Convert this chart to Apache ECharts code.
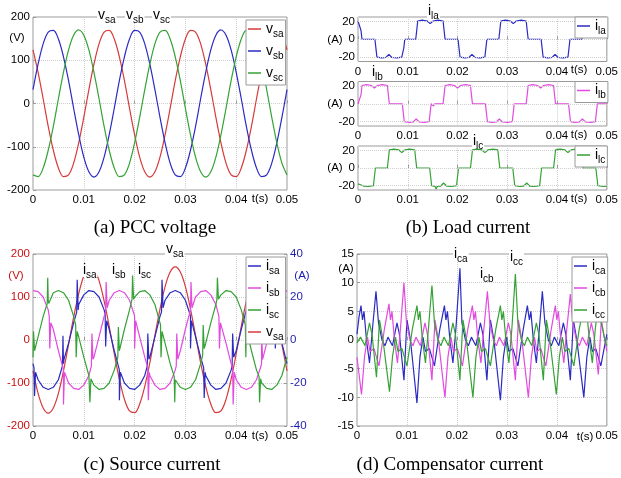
<!DOCTYPE html>
<html><head><meta charset="utf-8">
<script src="https://cdn.jsdelivr.net/npm/echarts@6/dist/echarts.min.js"></script>
<style>html,body{margin:0;padding:0;background:#fff}#c{width:621px;height:478px}</style>
</head><body><div id="c"></div>
<script>
const FONT = "'Liberation Sans', Arial, sans-serif";
const SERIF = "'Liberation Serif', 'Times New Roman', serif";

// time samples (s), 1 ms step
const tSec = [0,0.001,0.002,0.003,0.004,0.005,0.006,0.007,0.008,0.009,0.010,0.011,0.012,0.013,0.014,0.015,0.016,0.017,0.018,0.019,0.020,0.021,0.022,0.023,0.024,0.025,0.026,0.027,0.028,0.029,0.030,0.031,0.032,0.033,0.034,0.035,0.036,0.037,0.038,0.039,0.040,0.041,0.042,0.043,0.044,0.045,0.046,0.047,0.048,0.049,0.050];
const xTickLabels = ['0','0.01','0.02','0.03','0.04','0.05'];

// (a) PCC voltage (V)
const vsaA = [124,72,11,-53,-108,-149,-169,-165,-138,-91,-32,32,91,138,165,169,149,108,53,-11,-72,-124,-158,-170,-158,-124,-72,-11,53,108,149,169,165,138,91,32,-32,-91,-138,-165,-169,-149,-108,-53,11,72,124,158,170,158,124];
const vsbA = [32,91,138,165,169,149,108,53,-11,-72,-124,-158,-170,-158,-124,-72,-11,53,108,149,169,165,138,91,32,-32,-91,-138,-165,-169,-149,-108,-53,11,72,124,158,170,158,124,72,11,-53,-108,-149,-169,-165,-138,-91,-32,32];
const vscA = [-165,-169,-149,-108,-53,11,72,124,158,170,158,124,72,11,-53,-108,-149,-169,-165,-138,-91,-32,32,91,138,165,169,149,108,53,-11,-72,-124,-158,-170,-158,-124,-72,-11,53,108,149,169,165,138,91,32,-32,-91,-138,-165];

// (b) Load current (A), [t, i]
const ilaB = [[0,20.5],[0.0004,20],[0.0006,10],[0.0008,0],[0.0034,0],[0.0036,-10],[0.0038,-20],[0.0048,-21],[0.0056,-20.5],[0.0062,-17],[0.0068,-20.5],[0.0078,-21],[0.0088,-20],[0.0092,-10],[0.0094,0],[0.0116,0],[0.0118,10],[0.0120,20.5],[0.0129,21.5],[0.0139,20.5],[0.0145,17.5],[0.0151,20.5],[0.0161,21.5],[0.0171,20.5],[0.0173,10],[0.0175,0],[0.0201,0],[0.0203,-10],[0.0205,-20],[0.0215,-21],[0.0223,-20.5],[0.0229,-17],[0.0235,-20.5],[0.0245,-21],[0.0255,-20],[0.0257,-10],[0.0259,0],[0.0283,0],[0.0285,10],[0.0287,20.5],[0.0296,21.5],[0.0306,20.5],[0.0312,17.5],[0.0318,20.5],[0.0328,21.5],[0.0338,20.5],[0.0340,10],[0.0342,0],[0.0368,0],[0.0370,-10],[0.0372,-20],[0.0382,-21],[0.0390,-20.5],[0.0396,-17],[0.0402,-20.5],[0.0412,-21],[0.0422,-20],[0.0424,-10],[0.0426,0],[0.0450,0],[0.0452,10],[0.0454,20.5],[0.0463,21.5],[0.0473,20.5],[0.0479,17.5],[0.0485,20.5],[0.0495,21.5],[0.0500,21]];
const ilbB = [[0,0],[0.0004,0],[0.0006,10],[0.0008,20.5],[0.0017,21.5],[0.0027,20.5],[0.0033,17.5],[0.0039,20.5],[0.0049,21.5],[0.0059,20.5],[0.0061,10],[0.0063,0],[0.0089,0],[0.0091,-10],[0.0093,-20],[0.0103,-21],[0.0111,-20.5],[0.0117,-17],[0.0123,-20.5],[0.0133,-21],[0.0143,-20],[0.0145,-10],[0.0147,0],[0.0152,-2.5],[0.0154,0],[0.0171,0],[0.0173,10],[0.0175,20.5],[0.0184,21.5],[0.0194,20.5],[0.0200,17.5],[0.0206,20.5],[0.0216,21.5],[0.0226,20.5],[0.0228,10],[0.0230,0],[0.0256,0],[0.0258,-10],[0.0260,-20],[0.0270,-21],[0.0278,-20.5],[0.0284,-17],[0.0290,-20.5],[0.0300,-21],[0.0310,-20],[0.0312,-10],[0.0314,0],[0.0338,0],[0.0340,10],[0.0342,20.5],[0.0351,21.5],[0.0361,20.5],[0.0367,17.5],[0.0373,20.5],[0.0383,21.5],[0.0393,20.5],[0.0395,10],[0.0397,0],[0.0423,0],[0.0425,-10],[0.0427,-20],[0.0437,-21],[0.0445,-20.5],[0.0451,-17],[0.0457,-20.5],[0.0467,-21],[0.0477,-20],[0.0479,-10],[0.0481,0],[0.0500,0]];
const ilcB = [[0,-18],[0.0005,-19],[0.0011,-20.5],[0.0021,-21],[0.0031,-20],[0.0033,-10],[0.0035,0],[0.0059,0],[0.0061,10],[0.0063,20.5],[0.0072,21.5],[0.0082,20.5],[0.0088,17.5],[0.0094,20.5],[0.0104,21.5],[0.0114,20.5],[0.0116,10],[0.0118,0],[0.0144,0],[0.0146,-10],[0.0148,-20],[0.0155,-21],[0.0157,-24],[0.0159,-21],[0.0166,-20.5],[0.0172,-17],[0.0178,-20.5],[0.0188,-21],[0.0198,-20],[0.0200,-10],[0.0202,0],[0.0226,0],[0.0228,10],[0.0230,20.5],[0.0239,21.5],[0.0249,20.5],[0.0255,17.5],[0.0261,20.5],[0.0271,21.5],[0.0281,20.5],[0.0283,10],[0.0285,0],[0.0311,0],[0.0313,-10],[0.0315,-20],[0.0325,-21],[0.0333,-20.5],[0.0339,-17],[0.0345,-20.5],[0.0355,-21],[0.0365,-20],[0.0367,-10],[0.0369,0],[0.0393,0],[0.0395,10],[0.0397,20.5],[0.0406,21.5],[0.0416,20.5],[0.0422,17.5],[0.0428,20.5],[0.0438,21.5],[0.0448,20.5],[0.0450,10],[0.0452,0],[0.0478,0],[0.0480,-10],[0.0482,-20],[0.0492,-21],[0.0500,-20.5]];
const bGridLines = [-20, 0, 20];

// (c) Source current (A) and v_sa (V)
const vsaC = [-72,-124,-158,-170,-158,-124,-72,-11,53,108,149,169,165,138,91,32,-32,-91,-138,-165,-169,-149,-108,-53,11,72,124,158,170,158,124,72,11,-53,-108,-149,-169,-165,-138,-91,-32,32,91,138,165,169,149,108,53,-11,-72];
const isaC = [-11,-18.5,-22,-23,-22,-18.5,-11,-1.5,8,16.5,21,23,22.5,20,14,5,-5,-14,-20,-22.5,-23,-21,-16.5,-8,1.5,11,18.5,22,23,22,18.5,11,1.5,-8,-16.5,-21,-23,-22.5,-20,-14,-5,5,14,20,22.5,23,21,16.5,8,-1.5,-11];
const isbC = [23,22.5,20,14,5,-5,-14,-20,-22.5,-23,-21,-16.5,-8,1.5,11,18.5,22,23,22,18.5,11,1.5,-8,-16.5,-21,-23,-22.5,-20,-14,-5,5,14,20,22.5,23,21,16.5,8,-1.5,-11,-18.5,-22,-23,-22,-18.5,-11,-1.5,8,16.5,21,23];
const iscC = [-8,1.5,11,18.5,22,23,22,18.5,11,1.5,-8,-16.5,-21,-23,-22.5,-20,-14,-5,5,14,20,22.5,23,21,16.5,8,-1.5,-11,-18.5,-22,-23,-22,-18.5,-11,-1.5,8,16.5,21,23,22.5,20,14,5,-5,-14,-20,-22.5,-23,-21,-16.5,-8];
const isaSpikes = [[0.0002,-13],[0.0003,-26],[0.0005,-15],[0.0058,-12],[0.0059,2],[0.0061,-9],[0.0086,13],[0.0087,28],[0.0089,14],[0.0142,12],[0.0143,-3],[0.0145,9],[0.0169,-13],[0.0170,-28],[0.0172,-15],[0.0225,-12],[0.0226,3],[0.0228,-9],[0.0253,13],[0.0254,28],[0.0256,15],[0.0309,12],[0.0310,-4],[0.0312,9],[0.0336,-13],[0.0337,-27],[0.0339,-15],[0.0392,-12],[0.0393,3],[0.0395,-8],[0.0420,12],[0.0421,27],[0.0423,14],[0.0476,11],[0.0477,-4],[0.0479,8]];
const isbSpikes = [[0.0032,11],[0.0033,-4],[0.0035,8],[0.0059,-13],[0.0060,-30],[0.0062,-15],[0.0115,-12],[0.0116,3],[0.0118,-9],[0.0143,13],[0.0144,27],[0.0146,15],[0.0199,12],[0.0200,-4],[0.0202,9],[0.0226,-13],[0.0227,-28],[0.0229,-15],[0.0282,-12],[0.0283,3],[0.0285,-9],[0.0310,13],[0.0311,27],[0.0313,15],[0.0366,11],[0.0367,-4],[0.0369,8],[0.0393,-13],[0.0394,-30],[0.0396,-15],[0.0449,-12],[0.0450,3],[0.0452,-9],[0.0477,14],[0.0478,27],[0.0480,15]];
const iscSpikes = [[0.0001,4],[0.0003,-5],[0.0028,17],[0.0029,29],[0.0031,17],[0.0084,7],[0.0085,-8],[0.0087,4],[0.0111,-17],[0.0112,-29],[0.0114,-18],[0.0167,-8],[0.0168,6],[0.0170,-5],[0.0195,19],[0.0196,30],[0.0198,19],[0.0251,7],[0.0252,-8],[0.0254,4],[0.0278,-17],[0.0279,-29],[0.0281,-18],[0.0334,-7],[0.0335,7],[0.0337,-4],[0.0362,19],[0.0363,29],[0.0365,19],[0.0418,7],[0.0419,-8],[0.0421,4],[0.0445,-17],[0.0446,-29],[0.0448,-18]];

// (d) Compensator current (A), [t, i]
const icaD = [[0,1],[0.0004,4],[0.0008,6],[0.0011,3.5],[0.0014,5],[0.0019,0],[0.0025,-4],[0.0031,2],[0.0038,8.5],[0.0043,3],[0.005,0],[0.0056,-1],[0.0062,0.5],[0.0071,-1],[0.008,3],[0.0085,1],[0.0094,-7],[0.01,3.5],[0.0107,0],[0.012,-11],[0.0126,-3],[0.0132,0.5],[0.0137,-2],[0.0145,-1.5],[0.0155,-4.5],[0.0166,2],[0.0175,6],[0.0178,3.5],[0.0181,5],[0.0186,0],[0.0192,-4],[0.0198,2],[0.0206,12.5],[0.021,3],[0.0217,0],[0.0223,-1],[0.0229,0.5],[0.0238,-1],[0.0247,3],[0.0252,1],[0.026,-7],[0.0267,3.5],[0.0274,0],[0.0287,-10.5],[0.0293,-3],[0.0299,0.5],[0.0304,-2],[0.0312,-1.5],[0.0322,-4.5],[0.0333,2],[0.0341,6],[0.0345,3.5],[0.0348,5],[0.0353,0],[0.0359,-4],[0.0365,2],[0.0371,8.5],[0.0376,3],[0.0383,0],[0.0389,-1],[0.0395,0.5],[0.0404,-1],[0.0413,3],[0.0418,1],[0.0427,-7],[0.0433,3.5],[0.044,0],[0.0454,-10],[0.046,-3],[0.0466,0.5],[0.0471,-2],[0.0478,-1.5],[0.0488,-4.5],[0.05,1]];
const icbD = [[0,-3],[0.0009,-9.5],[0.0015,-3],[0.0021,0.5],[0.0026,-2],[0.0034,-1.5],[0.0044,-4.5],[0.0055,2],[0.0064,6.3],[0.0067,3.5],[0.007,5],[0.0075,0],[0.0081,-4],[0.0087,2],[0.0094,10],[0.0099,3],[0.0106,0],[0.0112,-1],[0.0118,0.5],[0.0127,-1],[0.0136,3],[0.0141,1],[0.015,-7],[0.0156,3.5],[0.0163,0],[0.0176,-10],[0.0182,-3],[0.0188,0.5],[0.0193,-2],[0.0201,-1.5],[0.0211,-4.5],[0.0222,2],[0.0231,6],[0.0234,3.5],[0.0237,5],[0.0242,0],[0.0248,-4],[0.0254,2],[0.0261,8.5],[0.0266,3],[0.0273,0],[0.0279,-1],[0.0285,0.5],[0.0294,-1],[0.0303,3],[0.0308,1],[0.0317,-7],[0.0323,3.5],[0.033,0],[0.0343,-10],[0.0349,-3],[0.0355,0.5],[0.036,-2],[0.0368,-1.5],[0.0378,-4.5],[0.0389,2],[0.0397,6],[0.04,3.5],[0.0403,5],[0.0408,0],[0.0414,-4],[0.042,2],[0.0427,8],[0.0432,3],[0.0439,0],[0.0445,-1],[0.0451,0.5],[0.046,-1],[0.0469,3],[0.0474,1],[0.0483,-6],[0.0489,3.5],[0.0496,0],[0.05,-2]];
const iccD = [[0,-0.5],[0.0007,0.5],[0.0016,-1],[0.0025,3],[0.003,1],[0.0039,-6.5],[0.0045,3.5],[0.0052,0],[0.0065,-9],[0.0071,-3],[0.0077,0.5],[0.0082,-2],[0.009,-1.5],[0.01,-4.5],[0.0111,2],[0.012,6],[0.0123,3.5],[0.0126,5],[0.0131,0],[0.0137,-4],[0.0143,2],[0.015,9.5],[0.0155,3],[0.0162,0],[0.0168,-1],[0.0174,0.5],[0.0183,-1],[0.0192,3],[0.0197,1],[0.0206,-7],[0.0212,3.5],[0.0219,0],[0.0232,-10],[0.0238,-3],[0.0244,0.5],[0.0249,-2],[0.0257,-1.5],[0.0267,-4.5],[0.0278,2],[0.0287,6],[0.029,3.5],[0.0293,5],[0.0298,0],[0.0304,-4],[0.031,2],[0.0317,11.5],[0.0322,3],[0.0329,0],[0.0335,-1],[0.0341,0.5],[0.035,-1],[0.0359,3],[0.0364,1],[0.0373,-7],[0.0379,3.5],[0.0386,0],[0.0399,-9.5],[0.0405,-3],[0.0411,0.5],[0.0416,-2],[0.0424,-1.5],[0.0434,-4.5],[0.0445,2],[0.0454,6],[0.0457,3.5],[0.046,5],[0.0465,0],[0.0471,-4],[0.0477,2],[0.0484,7],[0.0489,3],[0.0496,0],[0.05,-1]];

const COL = {blue:'#2b2bc4', red:'#d63a3a', green:'#34a234', mag:'#e24ae0'};
const AX = '#9a9a9a', GRID = '#cfcfcf';

function pairs(ts, vs){ return ts.map((t,i)=>[t, vs[i]]); }
function merge(base, sp){ return base.concat(sp).sort((a,b)=>a[0]-b[0]); }

const RICH = {
  m:{fontSize:14, lineHeight:14, verticalAlign:'top', fontFamily:FONT, color:'#000'},
  s:{fontSize:10, lineHeight:10, padding:[7,0,0,0], verticalAlign:'top', fontFamily:FONT, color:'#000'}
};
function fmt(name){ const p = name.split('#')[0].split('_'); return '{m|'+p[0]+'}{s|'+p[1]+'}'; }

const grids = [
  {left:33, top:17, width:254, height:173},
  {left:358, top:17, width:251, height:44.5},
  {left:358, top:81.5, width:251, height:44.5},
  {left:358, top:146, width:251, height:44},
  {left:33, top:254, width:254, height:172},
  {left:357, top:254, width:252, height:172}
].map(g=>Object.assign({show:true, borderColor:AX, borderWidth:1, backgroundColor:'#fff'}, g));

function xAx(gi){
  return {type:'value', gridIndex:gi, min:0, max:0.05, interval:0.01,
    axisLine:{show:false}, axisTick:{show:true, inside:true, length:3, lineStyle:{color:AX}},
    splitLine:{show:true, lineStyle:{type:'dotted', color:GRID}},
    axisLabel:{fontFamily:FONT, fontSize:11.5, color:'#000', margin:4, showMinLabel:true, showMaxLabel:true,
      formatter:v=>xTickLabels[Math.round(v*100)]}};
}
function yAx(gi, min, max, interval, extra){
  return Object.assign({type:'value', gridIndex:gi, min, max, interval,
    axisLine:{show:false}, axisTick:{show:true, inside:true, length:3, lineStyle:{color:AX}},
    splitLine:{show:true, lineStyle:{type:'dotted', color:GRID}},
    axisLabel:{fontFamily:FONT, fontSize:11.5, color:'#000', margin:3}}, extra||{});
}
const xAxis = [0,1,2,3,4,5].map(xAx);
const bY = gi => yAx(gi, -25, 25, 5, {axisTick:{show:false}, splitLine:{show:false},
  axisLabel:{fontFamily:FONT, fontSize:11.5, color:'#000', margin:3, formatter:v=>bGridLines.indexOf(v)>=0?String(v):''}});
const yAxis = [
  yAx(0, -200, 200, 100),
  bY(1), bY(2), bY(3),
  yAx(4, -200, 200, 100, {axisLabel:{fontFamily:FONT, fontSize:11.5, color:'#cc1111', margin:3}}),
  yAx(4, -40, 40, 20, {position:'right', splitLine:{show:false}, axisLabel:{fontFamily:FONT, fontSize:11.5, color:'#1c1cb0', margin:3}}),
  yAx(5, -15, 15, 5)
];

function line(name, xi, yi, data, color, smooth, extra){
  return Object.assign({type:'line', name, xAxisIndex:xi, yAxisIndex:yi, data, showSymbol:false, symbol:'none',
    smooth: smooth?0.35:false, lineStyle:{width:1.2, color}, itemStyle:{color}, animation:false, z:3}, extra||{});
}
const bMark = {silent:true, symbol:'none', label:{show:false}, lineStyle:{type:'dotted', color:GRID, width:1},
  data: bGridLines.map(v=>({yAxis:v}))};

const series = [
  line('v_sa', 0, 0, pairs(tSec, vsaA), COL.red, true),
  line('v_sb', 0, 0, pairs(tSec, vsbA), COL.blue, true),
  line('v_sc', 0, 0, pairs(tSec, vscA), COL.green, true),
  line('i_la', 1, 1, ilaB, COL.blue, false, {markLine:bMark}),
  line('i_lb', 2, 2, ilbB, COL.mag, false, {markLine:bMark}),
  line('i_lc', 3, 3, ilcB, COL.green, false, {markLine:bMark}),
  line('v_sa#c', 4, 4, pairs(tSec, vsaC), COL.red, true),
  line('i_sa', 4, 5, merge(pairs(tSec, isaC), isaSpikes), COL.blue),
  line('i_sb', 4, 5, merge(pairs(tSec, isbC), isbSpikes), COL.mag),
  line('i_sc', 4, 5, merge(pairs(tSec, iscC), iscSpikes), COL.green),
  line('i_ca', 5, 6, icaD, COL.blue),
  line('i_cb', 5, 6, icbD, COL.mag),
  line('i_cc', 5, 6, iccD, COL.green)
];

function legend(names, left, top, gap){
  return {data:names, left, top, orient:'vertical', icon:'rect', itemWidth:13, itemHeight:1.5, itemGap:gap,
    padding:[2,2,2,2], backgroundColor:'#fff', borderColor:AX, borderWidth:1, borderRadius:0,
    formatter:fmt, textStyle:{rich:RICH}, selectedMode:false, z:10};
}
const legends = [
  legend(['v_sa','v_sb','v_sc'], 246, 20, 5),
  legend(['i_la'], 575, 17, 3),
  legend(['i_lb'], 575, 81.5, 3),
  legend(['i_lc'], 575, 146, 3),
  legend(['i_sa','i_sb','i_sc','v_sa#c'], 246, 257, 5),
  legend(['i_ca','i_cb','i_cc'], 572, 257, 5)
];

function ann(x, y, m, s){
  return {type:'text', x, y, z:100, style:{text:'{m|'+m+'}{s|'+s+'}', rich:RICH, backgroundColor:'#fff', padding:[0,1,0,1]}};
}
function txt(x, y, text, color, size, family){
  return {type:'text', x, y, z:100, style:{text, fill:color||'#000', font:(size||11.5)+'px '+(family||FONT), align:'center', verticalAlign:'middle'}};
}
const graphic = [
  // (a)
  txt(17, 38, '(V)'), txt(260, 199, 't(s)'),
  ann(97, 8, 'v','sa'), ann(125, 8, 'v','sb'), ann(152, 8, 'v','sc'),
  txt(155, 228, '(a) PCC voltage', '#000', 19, SERIF),
  // (b)
  txt(335, 39.5, '(A)'), txt(335, 103.8, '(A)'), txt(335, 168, '(A)'),
  txt(579, 70, 't(s)'), txt(579, 134.5, 't(s)'), txt(579, 199, 't(s)'),
  ann(427, 4, 'i','la'), ann(371, 65, 'i','lb'), ann(472, 134, 'i','lc'),
  txt(468, 228, '(b) Load current', '#000', 19, SERIF),
  // (c)
  txt(16, 276, '(V)', '#cc1111'), txt(302, 276, '(A)', '#1c1cb0'), txt(260, 436, 't(s)'),
  ann(165, 242, 'v','sa'), ann(82, 263, 'i','sa'), ann(111, 263, 'i','sb'), ann(137, 263, 'i','sc'),
  txt(152, 465, '(c) Source current', '#000', 19, SERIF),
  // (d)
  txt(346, 269, '(A)'), txt(585, 437, 't(s)'),
  ann(453, 247, 'i','ca'), ann(479, 267, 'i','cb'), ann(509, 250, 'i','cc'),
  txt(450, 465, '(d) Compensator current', '#000', 19, SERIF)
];

const chart = echarts.init(document.getElementById('c'), null, {renderer:'canvas'});
chart.setOption({backgroundColor:'#fff', animation:false, grid:grids, xAxis, yAxis, series, legend:legends, graphic});
</script></body></html>
